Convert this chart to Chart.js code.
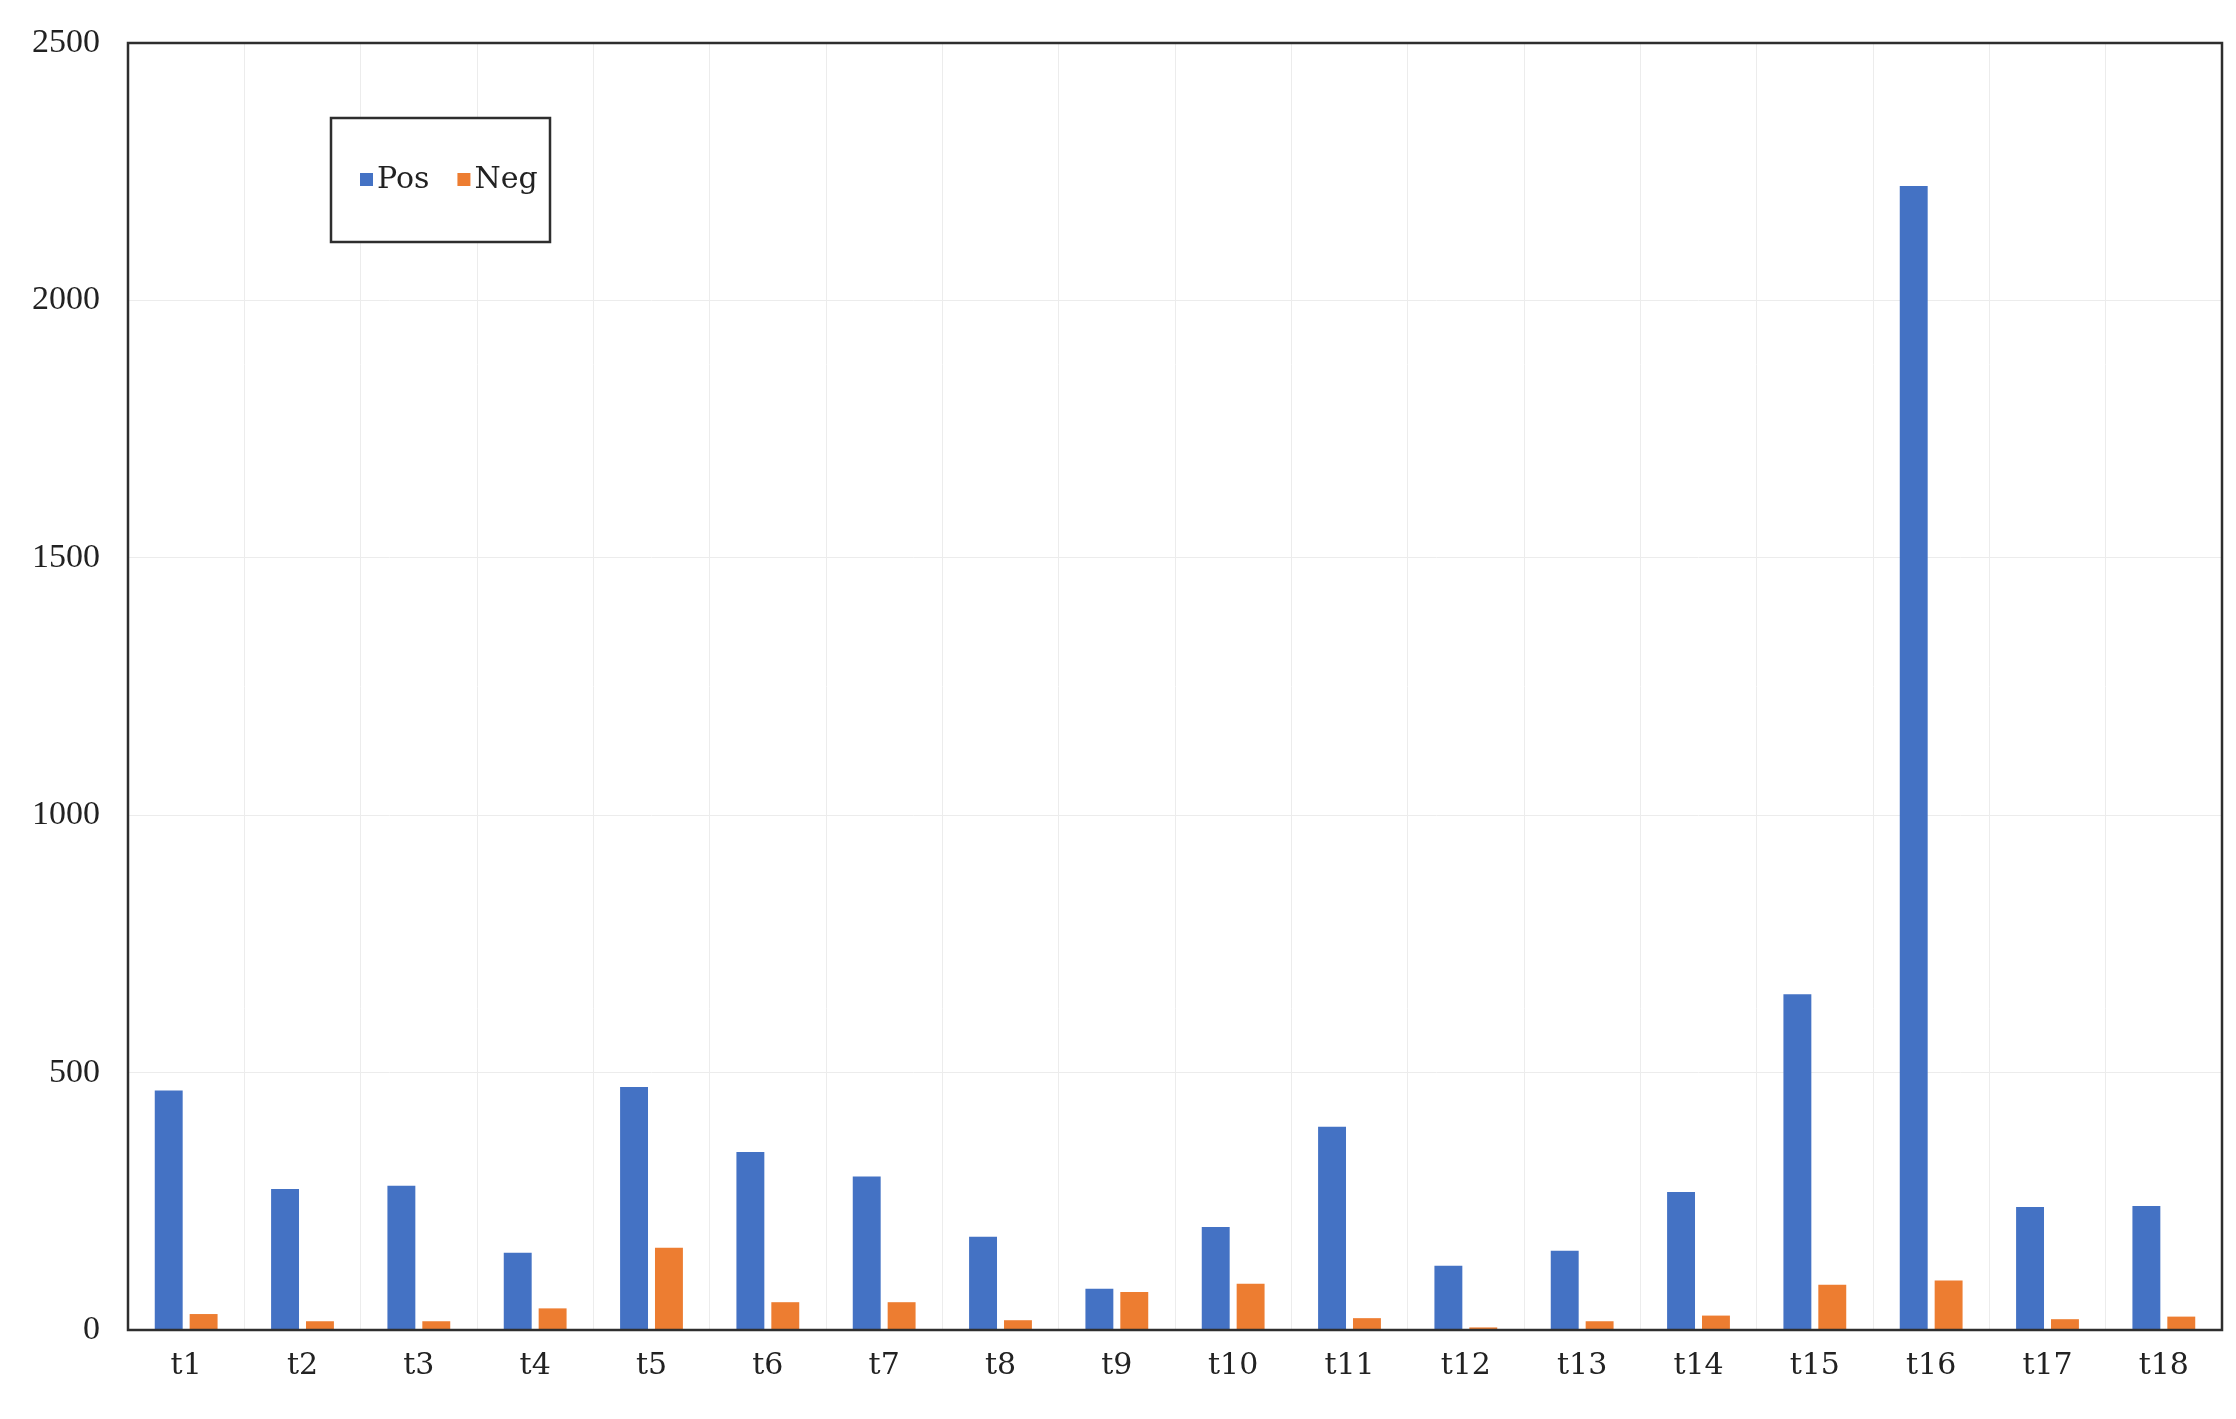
<!DOCTYPE html>
<html>
<head>
<meta charset="utf-8">
<script src="https://cdn.jsdelivr.net/npm/chart.js@4"></script>
<style>
  html, body { margin: 0; padding: 0; background: #fff; }
  #wrap { width: 2236px; height: 1419px; }
</style>
</head>
<body>
<div id="wrap"><canvas id="barChart"></canvas></div>
<script>
const labels = ["t1","t2","t3","t4","t5","t6","t7","t8","t9","t10","t11","t12","t13","t14","t15","t16","t17","t18"];
const posValues = [465, 274, 280, 150, 472, 346, 298, 181, 80, 200, 395, 125, 154, 268, 652, 2222, 239, 241];
const negValues = [31, 17, 17, 42, 160, 54, 54, 19, 74, 90, 23, 5, 17, 28, 88, 96, 21, 26];
const yTicks = [0, 500, 1000, 1500, 2000, 2500];

const serif = "'Liberation Serif', serif";
const wideSerif = "'DejaVu Serif', serif";

// frame round the plot area + boxed legend inside it
const framePlugin = {
  id: "frame",
  afterDraw(chart) {
    const { ctx, chartArea: a } = chart;
    ctx.save();
    ctx.strokeStyle = "#2e2e2e";
    ctx.lineWidth = 2.5;
    ctx.strokeRect(a.left, a.top, a.right - a.left, a.bottom - a.top);

    // legend box
    const bx = 331, by = 118, bw = 219, bh = 124;
    ctx.fillStyle = "#fff";
    ctx.fillRect(bx, by, bw, bh);
    ctx.strokeStyle = "#2e2e2e";
    ctx.lineWidth = 2.5;
    ctx.strokeRect(bx, by, bw, bh);

    ctx.font = "30px " + wideSerif;
    ctx.textBaseline = "middle";
    ctx.textAlign = "left";
    let x = 360;
    const cy = by + bh / 2;
    chart.data.datasets.forEach((ds) => {
      ctx.fillStyle = ds.backgroundColor;
      ctx.fillRect(x, cy - 7, 13, 13);
      ctx.fillStyle = "#222";
      ctx.fillText(ds.label, x + 17, cy);
      x += 17 + ctx.measureText(ds.label).width + 28;
    });
    ctx.restore();
  }
};

new Chart(document.getElementById("barChart"), {
  type: "bar",
  data: {
    labels: labels,
    datasets: [
      {
        label: "Pos",
        data: posValues,
        backgroundColor: "#4472C4",
        barPercentage: 0.8,
        categoryPercentage: 0.6
      },
      {
        label: "Neg",
        data: negValues,
        backgroundColor: "#ED7D31",
        barPercentage: 0.8,
        categoryPercentage: 0.6
      }
    ]
  },
  options: {
    responsive: true,
    maintainAspectRatio: false,
    animation: false,
    layout: { padding: { top: 43, right: 14, left: 0, bottom: 0 } },
    plugins: {
      legend: { display: false },
      tooltip: { enabled: false }
    },
    scales: {
      x: {
        grid: { color: "#ececec", drawTicks: false },
        border: { display: false },
        ticks: {
          color: "#222",
          font: { family: wideSerif, size: 30 },
          padding: 18
        },
        afterFit: (scale) => { scale.height = 89; }
      },
      y: {
        min: 0,
        max: 2500,
        grid: { color: "#ececec", drawTicks: false },
        border: { display: false },
        afterBuildTicks: (scale) => {
          scale.ticks = yTicks.map((v) => ({ value: v }));
        },
        ticks: {
          color: "#222",
          font: { family: serif, size: 34 },
          padding: 28,
          callback: (v) => String(v)
        },
        afterFit: (scale) => {
          scale.width = 128;
          scale.paddingTop = 0;
          scale.paddingBottom = 0;
        }
      }
    }
  },
  plugins: [framePlugin]
});
</script>
</body>
</html>
